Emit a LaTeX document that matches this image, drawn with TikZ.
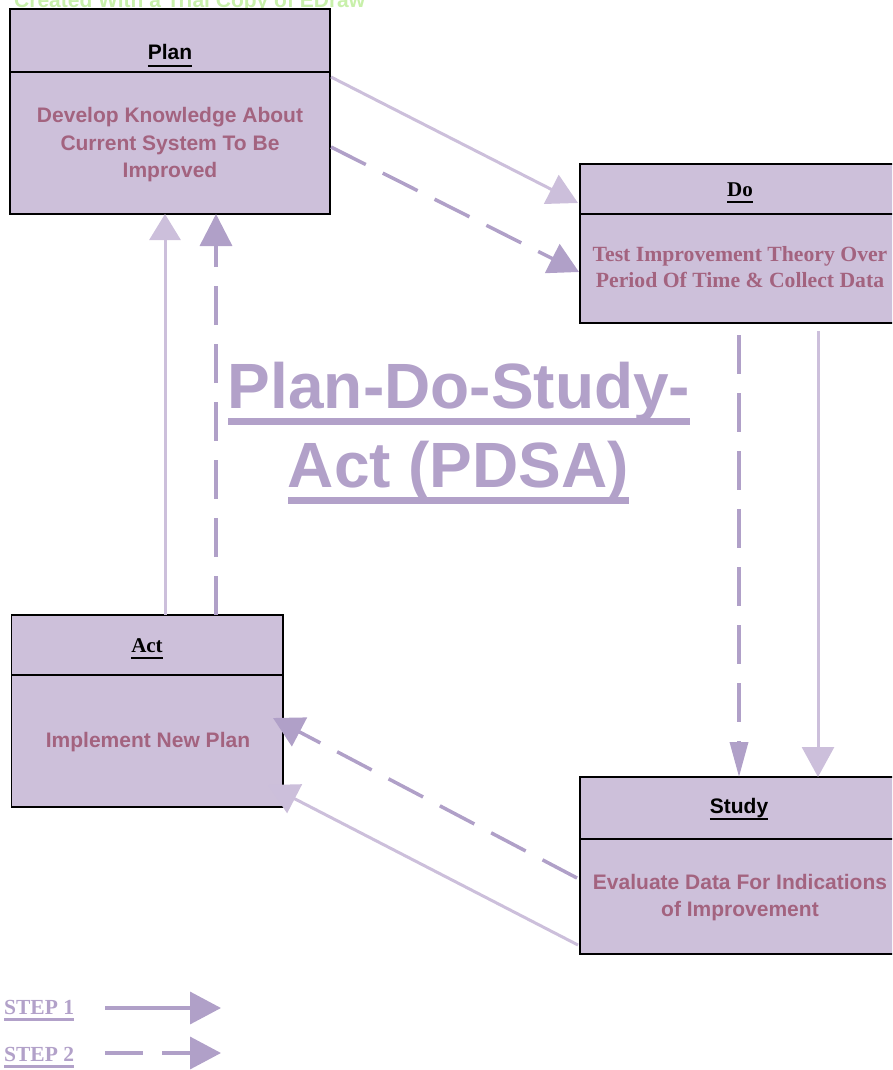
\documentclass[tikz,border=0pt]{standalone}
\usepackage{fontspec}
\setmainfont{Liberation Serif}
\setsansfont{Liberation Sans}
\usetikzlibrary{arrows.meta}

\definecolor{boxfill}{RGB}{205,192,218}
\definecolor{bodytext}{RGB}{163,99,127}
\definecolor{stepone}{RGB}{204,191,219}
\definecolor{steptwo}{RGB}{176,160,200}
\definecolor{headline}{RGB}{178,161,201}
\definecolor{trialmark}{RGB}{200,240,170}

% underline with a chosen thickness (#1) and distance below the baseline (#2)
\newcommand\ulx[3]{\setbox0\hbox{#3}\rlap{\vrule height -#2 depth \dimexpr#2+#1\relax width \wd0}\box0}

\tikzset{
  card/.style={draw=black, line width=1.3pt, fill=boxfill, inner sep=0pt},
  divider/.style={draw=black, line width=1.3pt},
  lbl/.style={inner sep=0pt, anchor=base},
  sanshead/.style={lbl, font=\sffamily\bfseries\fontsize{21}{24}\selectfont, text=black},
  serifhead/.style={lbl, font=\rmfamily\bfseries\fontsize{21}{24}\selectfont, text=black},
  sansbody/.style={lbl, font=\sffamily\bfseries\fontsize{21}{24}\selectfont, text=bodytext},
  serifbody/.style={lbl, font=\rmfamily\bfseries\fontsize{21.7}{24}\selectfont, text=bodytext},
  bigtitle/.style={lbl, font=\sffamily\bfseries\fontsize{64}{79}\selectfont, text=headline},
  keylabel/.style={lbl, anchor=base west, font=\rmfamily\bfseries\fontsize{21.5}{24}\selectfont, text=headline},
  firststep/.style={draw=stepone, line width=3pt, -{Triangle[length=30pt,width=32pt]}},
  secondstep/.style={draw=steptwo, line width=3.5pt, dash pattern=on 39pt off 19pt, -{Triangle[length=30pt,width=32pt]}},
  keyarrow/.style={draw=steptwo, line width=3.5pt, -{Triangle[length=31pt,width=32pt]}},
}

\begin{document}
\begin{tikzpicture}[x=1pt, y=-1pt]
\useasboundingbox (0,0) rectangle (892,1070);
\clip (0,0) rectangle (892,1070);

% trial watermark along the top edge
\node[lbl, anchor=base west, font=\sffamily\bfseries\fontsize{21}{24}\selectfont, text=trialmark] (mark) at (14,8) {Created With a Trial Copy of EDraw};

% the four stage cards
\node[card, minimum width=320pt, minimum height=205pt] (plan) at (170,111.5) {};
\draw[divider] (10,72) -- (330,72);
\node[card, minimum width=320pt, minimum height=159pt] (do) at (740,243.5) {};
\draw[divider] (580,214) -- (900,214);
\node[card, minimum width=271.5pt, minimum height=192pt] (act) at (147.25,711) {};
\draw[divider] (11.5,675) -- (283,675);
\node[card, minimum width=320pt, minimum height=177pt] (study) at (740,865.5) {};
\draw[divider] (580,839) -- (900,839);

% card headings
\node[sanshead] (planhead) at (170,60) {\ulx{2pt}{5pt}{Plan}};
\node[serifhead] (dohead) at (740,196) {\ulx{2pt}{5pt}{Do}};
\node[serifhead] (acthead) at (147,652) {\ulx{2pt}{5pt}{Act}};
\node[sanshead] (studyhead) at (739,813) {\ulx{2pt}{5pt}{Study}};

% card contents
\node[sansbody] (plan1) at (170,123) {Develop Knowledge About};
\node[sansbody] (plan2) at (170,150) {Current System To Be};
\node[sansbody] (plan3) at (170,177) {Improved};
\node[serifbody] (do1) at (740,261) {Test Improvement Theory Over};
\node[serifbody] (do2) at (740,287) {Period Of Time \& Collect Data};
\node[sansbody] (act1) at (148,747) {Implement New Plan};
\node[sansbody] (study1) at (740,889) {Evaluate Data For Indications};
\node[sansbody] (study2) at (740,916) {of Improvement};

% diagram title
\node[bigtitle] (title1) at (459,408) {\ulx{7pt}{10pt}{Plan-Do-Study-}};
\node[bigtitle] (title2) at (458.5,487) {\ulx{7pt}{10pt}{Act (PDSA)}};

% connector end points on the card borders
\coordinate (pd1s) at (331,77);   \coordinate (pd1e) at (578,203);
\coordinate (pd2s) at (331,147);  \coordinate (pd2e) at (579,272);
\coordinate (ds1s) at (818,331);  \coordinate (ds1e) at (818,777);
\coordinate (ds2s) at (739,335);  \coordinate (ds2e) at (739,777);
\coordinate (sa1s) at (578,945);  \coordinate (sa1e) at (268,785);
\coordinate (sa2s) at (577,878);  \coordinate (sa2e) at (273,718);
\coordinate (ap1s) at (165,615);  \coordinate (ap1e) at (165,214);
\coordinate (ap2s) at (216,615);  \coordinate (ap2e) at (216,214);

% step 1 (solid) and step 2 (dashed) cycles
\draw[firststep] (pd1s) -- (pd1e);
\draw[secondstep] (pd2s) -- (pd2e);
\draw[firststep] (ds1s) -- (ds1e);
\draw[secondstep, -{Triangle[length=35pt,width=18pt]}] (ds2s) -- (ds2e);
\draw[firststep] (sa1s) -- (sa1e);
\draw[secondstep] (sa2s) -- (sa2e);
\draw[firststep, -{Triangle[length=26pt,width=31pt]}] (ap1s) -- (ap1e);
\draw[secondstep, -{Triangle[length=32pt,width=32pt]}] (ap2s) -- (ap2e);

% key
\node[keylabel] (key1) at (4,1014) {\ulx{2.5pt}{4pt}{STEP 1}};
\node[keylabel] (key2) at (4,1061) {\ulx{2.5pt}{4pt}{STEP 2}};
\coordinate (k1s) at (105,1008); \coordinate (k1e) at (221,1008);
\coordinate (k2s) at (105,1053); \coordinate (k2e) at (221,1053);
\draw[keyarrow] (k1s) -- (k1e);
\draw[keyarrow, dash pattern=on 38pt off 19pt] (k2s) -- (k2e);
\end{tikzpicture}
\end{document}
